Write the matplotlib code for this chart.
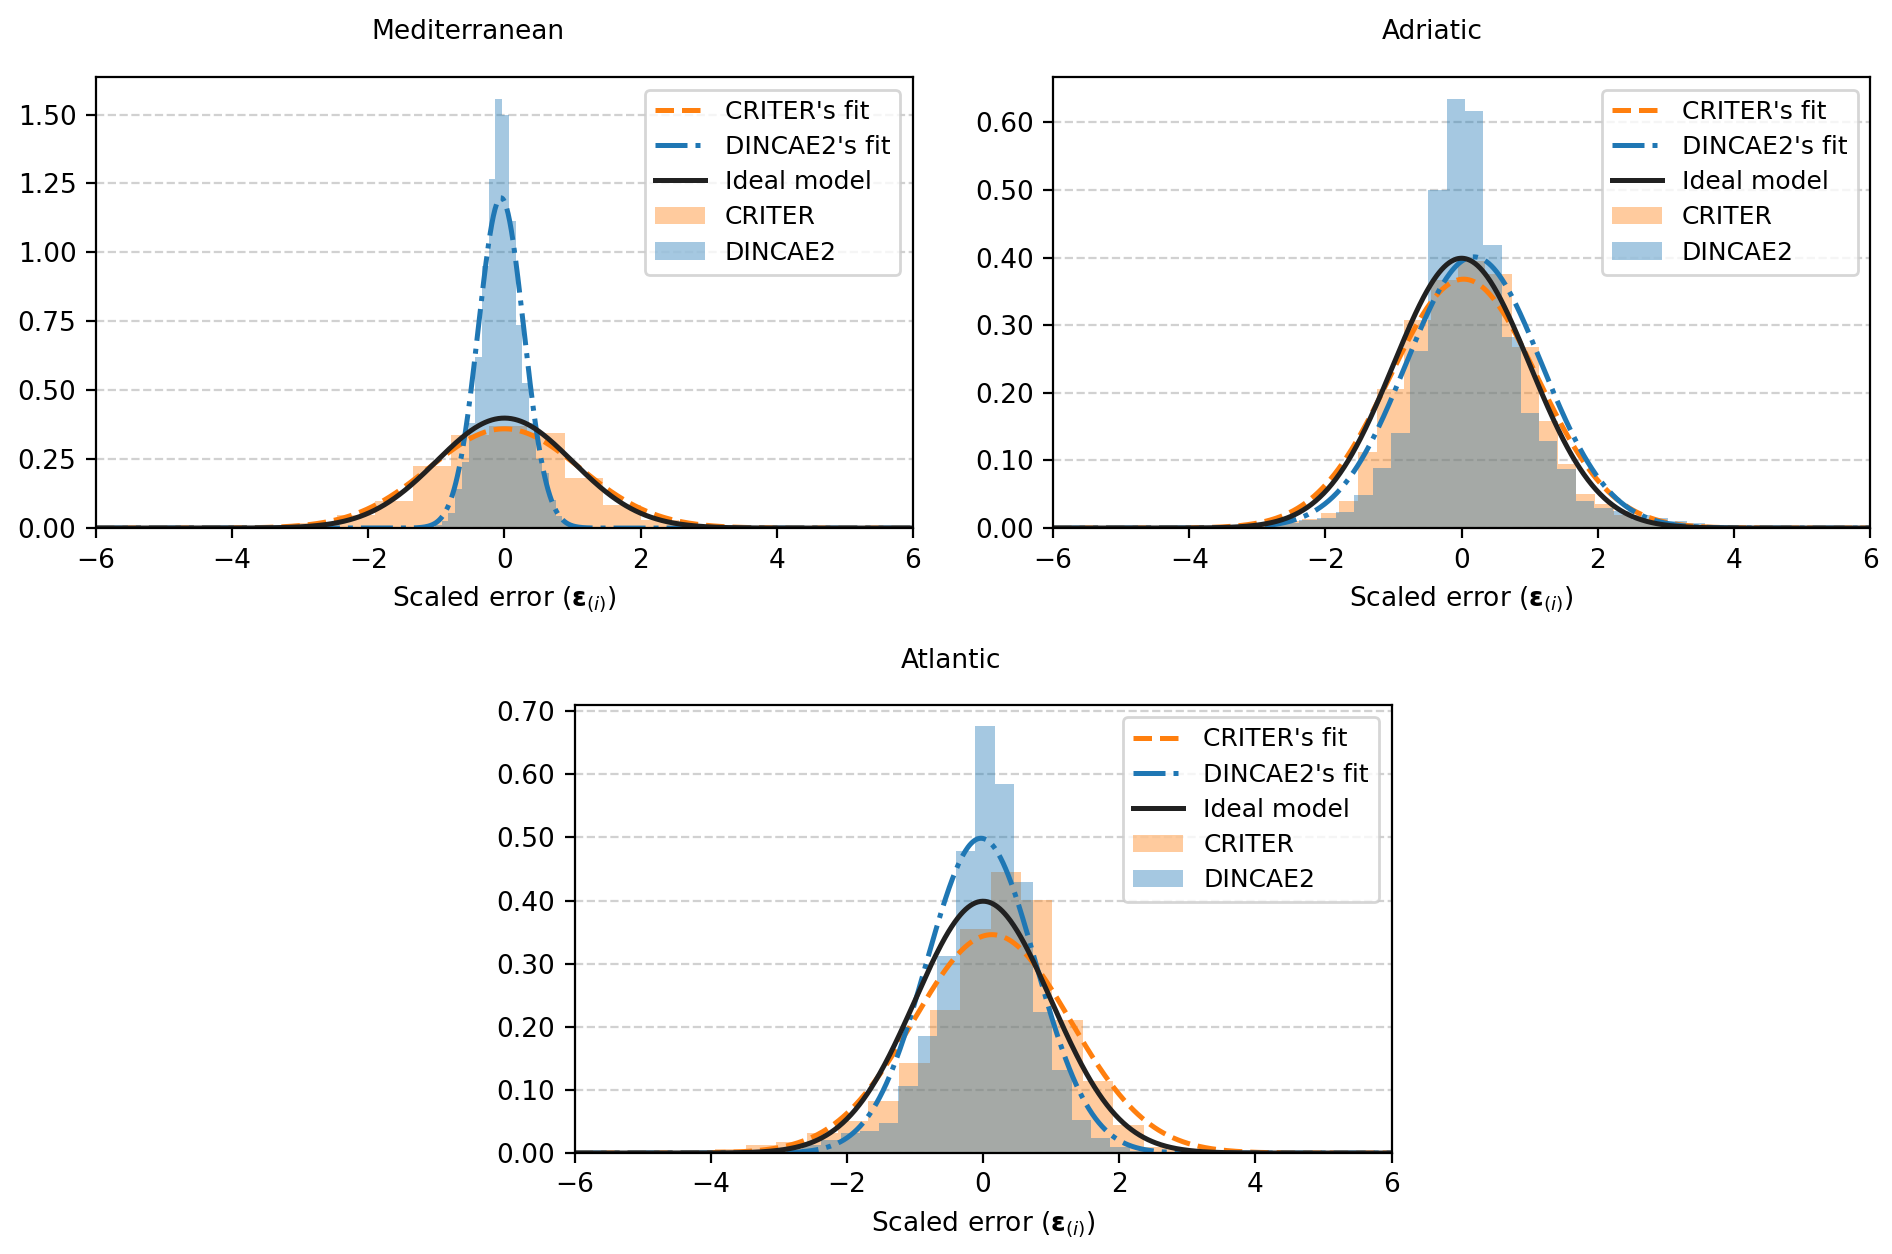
import numpy as np
import matplotlib
matplotlib.use("Agg")
import matplotlib.pyplot as plt
from matplotlib.lines import Line2D
from matplotlib.patches import Patch
from matplotlib.ticker import FormatStrFormatter, MultipleLocator

plt.rcParams["font.size"] = 9.5

# ---------- data ----------

# Mediterranean
med_criter_edges = [-4.70, -4.14, -3.58, -3.02, -2.46, -1.90, -1.34, -0.78, -0.23,
                    0.33, 0.89, 1.45, 2.01, 2.57, 3.13, 3.69, 4.25]
med_criter_dens = [0.001, 0.002, 0.006, 0.018, 0.048, 0.098, 0.225, 0.338,
                   0.370, 0.345, 0.180, 0.083, 0.031, 0.012, 0.004, 0.002]
med_dincae_edges = [-1.117, -1.019, -0.920, -0.822, -0.723, -0.625, -0.527, -0.428,
                    -0.330, -0.231, -0.133, -0.034, 0.064, 0.163, 0.261, 0.359,
                    0.458, 0.556, 0.654, 0.753, 0.851, 0.950, 1.048]
med_dincae_dens = [0.004, 0.010, 0.025, 0.055, 0.140, 0.240, 0.380, 0.620, 0.950,
                   1.265, 1.558, 1.500, 1.114, 0.736, 0.528, 0.380, 0.250, 0.200,
                   0.100, 0.045, 0.020, 0.008]

# Adriatic
adr_criter_edges = [-3.441, -3.167, -2.893, -2.619, -2.345, -2.071, -1.797, -1.523,
                    -1.249, -0.846, -0.449, -0.052, 0.345, 0.742, 1.136, 1.410,
                    1.684, 1.958, 2.232, 2.506, 2.780, 3.054, 3.328, 3.602]
adr_criter_dens = [0.002, 0.004, 0.006, 0.010, 0.014, 0.022, 0.040, 0.113,
                   0.205, 0.308, 0.367, 0.395, 0.375, 0.267, 0.158, 0.094,
                   0.050, 0.036, 0.020, 0.012, 0.007, 0.004, 0.002]
adr_dincae_edges = [-4.022, -3.750, -3.479, -3.207, -2.936, -2.664, -2.393, -2.121,
                    -1.850, -1.578, -1.307, -1.035, -0.764, -0.492, -0.221, 0.049,
                    0.320, 0.595, 0.866, 1.137, 1.409, 1.680, 1.951, 2.223, 2.494,
                    2.766, 3.037, 3.309, 3.580, 3.852, 4.123, 4.395]
adr_dincae_dens = [0.001, 0.002, 0.003, 0.004, 0.006, 0.008, 0.012, 0.015, 0.024,
                   0.049, 0.089, 0.141, 0.262, 0.500, 0.635, 0.617, 0.419, 0.282,
                   0.170, 0.128, 0.087, 0.040, 0.030, 0.025, 0.020, 0.015, 0.010,
                   0.008, 0.005, 0.003, 0.002]

# Atlantic
atl_criter_edges = [-4.387, -3.937, -3.487, -3.037, -2.587, -2.137, -1.687, -1.237,
                    -0.787, -0.337, 0.113, 0.563, 1.013, 1.463, 1.913, 2.363,
                    2.813, 3.263, 3.713, 4.163]
atl_criter_dens = [0.003, 0.007, 0.013, 0.018, 0.032, 0.050, 0.083, 0.143, 0.227,
                   0.355, 0.446, 0.401, 0.211, 0.114, 0.045, 0.010, 0.005, 0.002,
                   0.001]
atl_dincae_edges = [-2.943, -2.660, -2.377, -2.094, -1.811, -1.528, -1.245, -0.962,
                    -0.679, -0.396, -0.113, 0.170, 0.453, 0.736, 1.019, 1.302,
                    1.585, 1.868, 2.151, 2.434]
atl_dincae_dens = [0.005, 0.012, 0.020, 0.032, 0.035, 0.048, 0.106, 0.185, 0.312,
                   0.478, 0.676, 0.585, 0.429, 0.224, 0.132, 0.053, 0.024, 0.010,
                   0.004]

# gaussian fits (mean, std) per region
regions = ["Mediterranean", "Adriatic", "Atlantic"]
criter_fit_mu = [0.0, 0.03, 0.13]
criter_fit_sd = [1.108, 1.084, 1.153]
dincae_fit_mu = [-0.05, 0.18, -0.03]
dincae_fit_sd = [0.333, 0.995, 0.80]
ytick_step = [0.25, 0.10, 0.10]

hist_data = [
    (med_criter_edges, med_criter_dens, med_dincae_edges, med_dincae_dens),
    (adr_criter_edges, adr_criter_dens, adr_dincae_edges, adr_dincae_dens),
    (atl_criter_edges, atl_criter_dens, atl_dincae_edges, atl_dincae_dens),
]


def gauss(x, mu, sd):
    return np.exp(-0.5 * ((x - mu) / sd) ** 2) / (sd * np.sqrt(2 * np.pi))


# ---------- figure ----------

fig = plt.figure(figsize=(9.46, 6.27), dpi=200)
axes = [
    fig.add_axes([0.0507, 0.5789, 0.4318, 0.3596]),
    fig.add_axes([0.5566, 0.5789, 0.4318, 0.3596]),
    fig.add_axes([0.3037, 0.0805, 0.4318, 0.3573]),
]
title_pos = [(0.2474, 0.9689), (0.7569, 0.9689), (0.5026, 0.4673)]

x = np.linspace(-6, 6, 1000)
orange = "#ff7f0e"
blue = "#1f77b4"
black = "0.13"
lw = 1.8

for i, ax in enumerate(axes):
    ce, cd, de, dd = hist_data[i]
    ax.hist(ce[:-1], bins=ce, weights=cd, color=orange, alpha=0.4)
    ax.hist(de[:-1], bins=de, weights=dd, color=blue, alpha=0.4)

    ax.plot(x, gauss(x, criter_fit_mu[i], criter_fit_sd[i]), "--", color=orange, lw=lw)
    ax.plot(x, gauss(x, dincae_fit_mu[i], dincae_fit_sd[i]), "-.", color=blue, lw=lw)
    ax.plot(x, gauss(x, 0, 1), "-", color=black, lw=lw)

    ax.set_xlim(-6, 6)
    ax.set_xticks([-6, -4, -2, 0, 2, 4, 6])
    ax.yaxis.set_major_locator(MultipleLocator(ytick_step[i]))
    ax.yaxis.set_major_formatter(FormatStrFormatter("%.2f"))
    ax.set_axisbelow(True)
    ax.yaxis.grid(True, linestyle="--", color="0.82", lw=0.8)
    ax.set_xlabel(r"Scaled error ($\mathbf{ε}_{(i)}$)")

    handles = [
        Line2D([], [], ls="--", color=orange, lw=lw),
        Line2D([], [], ls="-.", color=blue, lw=lw),
        Line2D([], [], ls="-", color=black, lw=lw),
        Patch(facecolor=orange, alpha=0.4),
        Patch(facecolor=blue, alpha=0.4),
    ]
    labels = ["CRITER's fit", "DINCAE2's fit", "Ideal model", "CRITER", "DINCAE2"]
    ax.legend(handles, labels, loc="upper right", fontsize=9.0, labelspacing=0.45)

    fig.text(title_pos[i][0], title_pos[i][1], regions[i], ha="center", va="baseline")

fig.savefig("out.png", dpi=200)
